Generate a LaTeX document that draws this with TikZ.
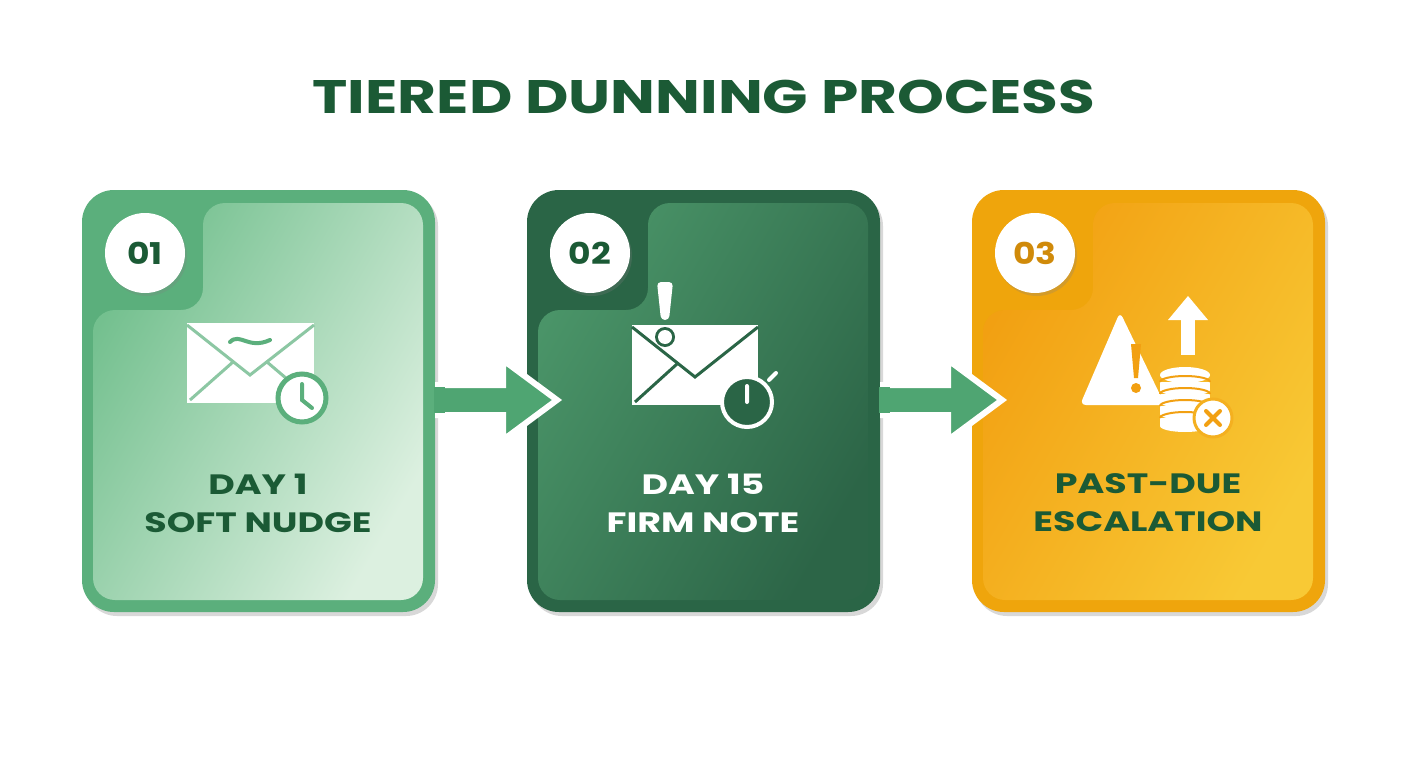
\documentclass[tikz,border=0pt]{standalone}
\usepackage{fontspec}
\setmainfont{Poppins}
\usetikzlibrary{shadows,calc}
\definecolor{dg}{HTML}{1B5A35}
\definecolor{oA}{HTML}{5BAF7C}\definecolor{iA1}{HTML}{74C08F}\definecolor{iA2}{HTML}{DCF0E0}
\definecolor{oB}{HTML}{2A6546}\definecolor{iB1}{HTML}{4A9468}\definecolor{iB2}{HTML}{2C6547}
\definecolor{oC}{HTML}{EFA50C}\definecolor{iC1}{HTML}{F2A012}\definecolor{iC2}{HTML}{F8C935}
\definecolor{numC}{HTML}{D08A0A}
\definecolor{arr}{HTML}{4FA572}
\tikzset{
 lbl/.style={font=\bfseries\fontsize{28}{38}\selectfont,align=center,xscale=1.3},
 num/.style={circle,fill=white,minimum size=80pt,font=\bfseries\fontsize{30}{30}\selectfont,drop shadow={opacity=0.25,shadow xshift=2pt,shadow yshift=-3pt}},
 arrw/.style={arr,draw=white,line width=6pt,line join=miter},
}
\newcommand\mycard[8]{% xoff, outer, in1, in2, numtext, numcolor, label, labelcolor
\begin{scope}[xshift=#1]
 \fill[#2,rounded corners=32pt,drop shadow={opacity=0.3,shadow xshift=3pt,shadow yshift=-4pt}] (82,190) rectangle (435,612);
 \shade[left color=#3,right color=#4,shading angle=60,rounded corners=22pt] (203,203) -- (423,203) -- (423,600) -- (93,600) -- (93,310) -- (203,310) -- cycle;
 \node[num,text=#6] (n#5) at (145,253) {\scalebox{1.15}[1]{#5}};
 \node[lbl,text=#8] (l#5) at (258,503) {#7};
\end{scope}}
\begin{document}
\begin{tikzpicture}[x=1pt,y=-1pt]
\useasboundingbox (0,0) rectangle (1408,768);
\fill[white] (0,0) rectangle (1408,768);
\node[font=\bfseries\fontsize{47}{50}\selectfont,text=dg,xscale=1.27] (title) at (704,97) {TIERED DUNNING PROCESS};
\mycard{0pt}{oA}{iA1}{iA2}{01}{dg}{DAY 1\\SOFT NUDGE}{dg}
\mycard{445pt}{oB}{iB1}{iB2}{02}{dg}{DAY 15\\FIRM NOTE}{white}
\mycard{890pt}{oC}{iC1}{iC2}{03}{numC}{PAST-DUE\\ESCALATION}{dg}
% arrows
\foreach \s in {0,445}{
 \fill[arrw] (\s+438,385) -- (\s+503,385) -- (\s+503,360) -- (\s+557,400) -- (\s+503,440) -- (\s+503,415) -- (\s+438,415) -- cycle;
 \fill[arr] (\s+434,387) rectangle (\s+445,413);
}
% icon 1
\fill[white] (187,323) rectangle (314,403);
\draw[oA!70,line width=3pt] (187,325) -- (250,375) -- (314,325) (190,400) -- (233,362) (267,362) -- (300,390);
\draw[oA,line width=4pt,line cap=round] (230,342) .. controls (240,332) and (248,350) .. (270,340);
\node[circle,fill=white,draw=oA,line width=5pt,minimum size=48pt] (clk1) at (302,398) {};
\draw[oA,line width=4pt,line cap=round] (302,384) -- (302,400) -- (312,408);
% icon 2
\fill[white] (632,325) rectangle (758,405);
\draw[oB,line width=3pt] (632,327) -- (695,377) -- (758,327) (635,402) -- (677,364);
\fill[white,rounded corners=4pt] (657,282) -- (673,282) -- (669,320) -- (661,320) -- cycle;
\fill[oB] (665,337) circle (10pt);
\fill[white] (665,337) circle (7pt);
\node[circle,fill=oB,draw=white,line width=4pt,minimum size=50pt] (clk2) at (747,402) {};
\fill[white] (740,366) rectangle (754,373);
\draw[white,line width=4pt,line cap=round] (747,402) -- (747,386) (769,380) -- (776,373);
% icon 3
\fill[white,rounded corners=6pt] (1120,312) -- (1165,405) -- (1080,405) -- cycle;
\fill[iC1] (1131,344) -- (1141,344) -- (1138,378) -- (1134,378) -- cycle;
\fill[iC1] (1136,388) circle (5pt);
\fill[white] (1181,355) rectangle (1195,318);
\fill[white] (1168,320) -- (1208,320) -- (1188,296) -- cycle;
\foreach \yy in {418,406,394,382}{
 \fill[white] (1160,\yy) rectangle (1210,\yy+8);
 \fill[white] (1185,\yy+8) ellipse (25pt and 6pt);
}
\fill[white] (1185,375) ellipse (25pt and 8pt);
\foreach \yy in {382,394,406,418}{
 \draw[iC1,line width=2pt] (1160,\yy) arc[start angle=180,end angle=360,x radius=25pt,y radius=-6pt];
}
\node[circle,fill=white,draw=iC1!60!iC2,line width=3pt,minimum size=38pt] (xc) at (1213,418) {};
\draw[iC1,line width=4pt,line cap=round] (1206,411) -- (1220,425) (1220,411) -- (1206,425);
\end{tikzpicture}
\end{document}
